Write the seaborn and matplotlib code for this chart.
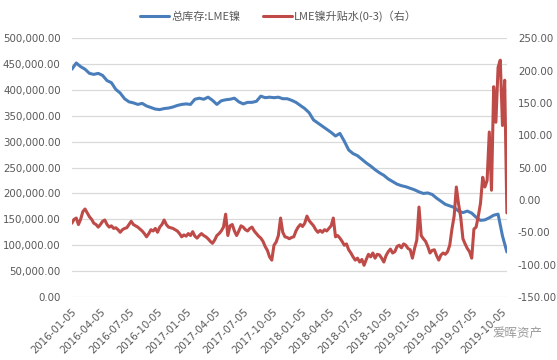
import matplotlib
matplotlib.use("Agg")
import matplotlib.pyplot as plt
import matplotlib.ticker as mticker
import matplotlib.dates as mdates
import seaborn as sns
import pandas as pd

# 总库存:LME镍 (left axis), sampled every 14 days from 2016-01-05
inventory_start = "2016-01-05"
inventory = [
    440000, 452000, 445000, 440000, 432000, 430000, 432000, 428000, 418000, 414000,
    401000, 394000, 383000, 377000, 375000, 372000, 374000, 369000, 366000, 363000,
    362000, 364000, 365000, 367000, 370000, 372000, 373000, 372000, 382000, 384000,
    382000, 386000, 380000, 372000, 379000, 381000, 382000, 384000, 377000, 373000,
    376000, 376000, 378000, 388000, 385000, 386000, 385000, 386000, 383000, 383000,
    380000, 376000, 370000, 364000, 356000, 342000, 336000, 330000, 324000, 318000,
    311000, 316000, 301000, 284000, 277000, 273000, 266000, 259000, 253000, 246000,
    240000, 235000, 228000, 223000, 218000, 215000, 213000, 210000, 207000, 203000,
    200000, 201000, 198000, 191000, 185000, 179000, 176000, 173000, 166000, 163000,
    166000, 162000, 154000, 148000, 149000, 153000, 158000, 160000, 118000, 87000,
]

# LME镍升贴水(0-3) (right axis), sampled every 7 days from 2016-01-05
spread_start = "2016-01-05"
spread = [
    -36, -30, -28, -38, -30, -18, -14, -20, -26, -30,
    -36, -38, -42, -38, -33, -31, -38, -42, -40, -44,
    -43, -46, -50, -46, -44, -43, -38, -33, -38, -40,
    -42, -45, -48, -52, -57, -52, -46, -48, -44, -50,
    -42, -38, -31, -38, -42, -43, -44, -46, -48, -52,
    -57, -54, -56, -52, -55, -49, -56, -59, -55, -52,
    -55, -57, -60, -64, -67, -62, -55, -52, -48, -42,
    -22, -55, -40, -38, -48, -55, -48, -40, -42, -46,
    -48, -44, -42, -48, -52, -56, -59, -64, -72, -78,
    -88, -93, -70, -65, -55, -28, -50, -57, -58, -60,
    -58, -57, -48, -42, -38, -41, -36, -25, -32, -36,
    -40, -46, -50, -47, -50, -46, -48, -44, -40, -28,
    -57, -55, -59, -64, -70, -68, -77, -82, -88, -93,
    -90, -96, -92, -101, -92, -84, -88, -82, -90, -84,
    -85, -90, -96, -86, -80, -76, -82, -80, -72, -70,
    -74, -68, -70, -75, -77, -90, -75, -62, -11, -55,
    -60, -64, -72, -82, -78, -77, -86, -93, -85, -82,
    -84, -80, -70, -45, -25, 20, -6, -27, -60, -68,
    -75, -80, -90, -45, -42, -25, -5, 35, 20, 30,
    105, 15, 175, 120, 205, 216, 115, 185, -20,
]

tick_labels = [
    "2016-01-05", "2016-04-05", "2016-07-05", "2016-10-05",
    "2017-01-05", "2017-04-05", "2017-07-05", "2017-10-05",
    "2018-01-05", "2018-04-05", "2018-07-05", "2018-10-05",
    "2019-01-05", "2019-04-05", "2019-07-05", "2019-10-05",
]

df_inv = pd.DataFrame({
    "date": pd.date_range(inventory_start, periods=len(inventory), freq="14D"),
    "value": inventory,
})
df_spread = pd.DataFrame({
    "date": pd.date_range(spread_start, periods=len(spread), freq="7D"),
    "value": spread,
})

sns.set_theme(style="white")
plt.rcParams["font.family"] = ["DejaVu Sans", "Noto Sans CJK SC"]

blue = "#4A7EBB"
red = "#BE4B48"
grey_text = "#595959"

fig, ax = plt.subplots(figsize=(5.57, 3.6), dpi=100)
fig.subplots_adjust(left=0.129, right=0.910, top=0.894, bottom=0.175)
ax2 = ax.twinx()

sns.lineplot(data=df_inv, x="date", y="value", ax=ax, color=blue, linewidth=2.2,
             label="总库存:LME镍", legend=False)
sns.lineplot(data=df_spread, x="date", y="value", ax=ax2, color=red, linewidth=2.2,
             label="LME镍升贴水(0-3)（右）", legend=False)

ax.set_xlim(pd.Timestamp("2016-01-05"), pd.Timestamp("2019-10-22"))
ax.set_ylim(0, 500000)
ax2.set_ylim(-150, 250)
ax.yaxis.set_major_locator(mticker.MultipleLocator(50000))
ax2.yaxis.set_major_locator(mticker.MultipleLocator(50))
ax.yaxis.set_major_formatter(mticker.FuncFormatter(lambda v, p: f"{v:,.2f}"))
ax2.yaxis.set_major_formatter(mticker.FuncFormatter(lambda v, p: f"{v:.2f}"))

ax.set_xticks(pd.to_datetime(tick_labels))
ax.set_xticklabels(tick_labels, rotation=45, ha="right", rotation_mode="anchor")

ax.grid(axis="y", color="#D9D9D9", linewidth=0.9)
ax.grid(axis="x", visible=False)
ax2.grid(False)
ax.set_axisbelow(True)
for a in (ax, ax2):
    for s in a.spines.values():
        s.set_visible(False)
    a.set_xlabel("")
    a.set_ylabel("")
ax.tick_params(axis="both", length=0, labelsize=7.4, colors=grey_text)
ax.tick_params(axis="y", pad=8)
ax.tick_params(axis="x", pad=7)
ax2.tick_params(axis="y", length=0, labelsize=7.4, colors=grey_text, pad=8)

h1, l1 = ax.get_legend_handles_labels()
h2, l2 = ax2.get_legend_handles_labels()
fig.legend(h1 + h2, l1 + l2, loc="upper center", bbox_to_anchor=(0.5, 1.0), ncol=2,
           frameon=False, handlelength=2.6, handletextpad=0.2,
           columnspacing=2.0, labelcolor=grey_text,
           prop={"family": ["Noto Sans CJK SC", "DejaVu Sans"], "size": 8})

fig.text(0.885, 0.075, "爱晖资产", fontsize=9, color="#9A9A9A",
         family=["Noto Sans CJK SC"], ha="left", va="center")

fig.savefig("out.png", dpi=100)
